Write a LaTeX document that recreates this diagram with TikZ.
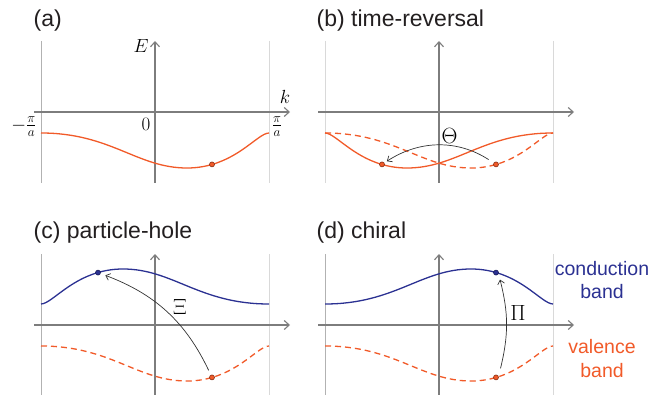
\RequirePackage{fix-cm}
\documentclass[tikz,border=0pt]{standalone}
\usepackage{fontspec}
\newfontfamily\sansf{Liberation Sans}
\usetikzlibrary{arrows.meta}
\definecolor{borange}{RGB}{241,90,41}
\definecolor{bblue}{RGB}{43,49,146}
\definecolor{axgray}{RGB}{125,125,125}
\definecolor{txtgray}{RGB}{35,31,32}
\begin{document}
\begin{tikzpicture}[x=1pt,y=-1pt,
  axis/.style={draw=axgray,line width=1.1pt,-{Straight Barb[length=5pt,width=9pt]}},
  bndl/.style={draw=gray!60,line width=0.9pt},
  bndr/.style={draw=gray!30,line width=1pt},
  vband/.style={color=borange,line width=1.3pt},
  vdash/.style={vband,dash pattern=on 6pt off 4pt},
  cband/.style={color=bblue,line width=1.3pt},
  dotc/.style={circle,inner sep=0pt,minimum size=5pt,line width=0.6pt},
  odot/.style={dotc,fill=borange,draw=borange!55!black},
  bdot/.style={dotc,fill=bblue,draw=bblue!60!black},
  symarrow/.style={draw=black!80,line width=0.7pt,-{Straight Barb[length=4pt,width=7pt]}},
  title/.style={font=\sansf\fontsize{23}{27}\selectfont,text=txtgray,inner sep=0pt,anchor=base west},
  bandlabel/.style={font=\sansf\fontsize{19.5}{23}\selectfont,inner sep=0pt,anchor=base},
  mlab/.style={font=\fontsize{19}{23}\selectfont,inner sep=0pt},
  glab/.style={font=\fontsize{22}{26}\selectfont,inner sep=0pt},
  bandline/.pic={\draw (-114,21) .. controls (-44,21) and (-18,56) .. (32,56) .. controls (79,56) and (102,21) .. (114,21);}
]
\useasboundingbox (0,0) rectangle (663,395);

% ---------- (a)
\node[title] (ta) at (33.5,27) {(a)};
\coordinate (aL1) at (41,41);  \coordinate (aL2) at (41,183);
\coordinate (aR1) at (269,41); \coordinate (aR2) at (269,183);
\coordinate (aX1) at (34,112); \coordinate (aX2) at (290,112);
\coordinate (aY1) at (155,183); \coordinate (aY2) at (155,41);
\draw[bndl] (aL1) -- (aL2);
\draw[bndr] (aR1) -- (aR2);
\draw[axis] (aX1) -- (aX2);
\draw[axis] (aY1) -- (aY2);
\pic[vband] at (155,112) {bandline};
\node[odot] (da) at (212,164.4) {};
\node[mlab] (lE) at (141,46) {$E$};
\node[mlab] (lk) at (285,97) {$k$};
\node[mlab] (l0) at (146,124.5) {$0$};
\node[mlab] (lmpi) at (24,127) {$-\frac{\pi}{a}$};
\node[mlab] (lpi) at (277,127) {$\frac{\pi}{a}$};

% ---------- (b)
\node[title] (tb) at (316.5,27) {(b) time-reversal};
\coordinate (bL1) at (325,41);  \coordinate (bL2) at (325,183);
\coordinate (bR1) at (553,41); \coordinate (bR2) at (553,183);
\coordinate (bX1) at (318,112); \coordinate (bX2) at (574,112);
\coordinate (bY1) at (439,183); \coordinate (bY2) at (439,41);
\draw[bndr] (bL1) -- (bL2);
\draw[bndr] (bR1) -- (bR2);
\draw[axis] (bX1) -- (bX2);
\draw[axis] (bY1) -- (bY2);
\pic[vdash] at (439,112) {bandline};
\pic[vband,xscale=-1] at (439,112) {bandline};
\node[odot] (db1) at (382,164.4) {};
\node[odot] (db2) at (496,164.4) {};
\draw[symarrow,shorten <=6pt,shorten >=3pt] (db2) to[bend right=33] (db1);
\node[glab] (lTheta) at (449.5,136) {$\Theta$};

% ---------- (c)
\node[title] (tc) at (33.5,238) {(c) particle-hole};
\coordinate (cL1) at (41,254);  \coordinate (cL2) at (41,396);
\coordinate (cR1) at (269,254); \coordinate (cR2) at (269,396);
\coordinate (cX1) at (34,325); \coordinate (cX2) at (290,325);
\coordinate (cY1) at (155,396); \coordinate (cY2) at (155,254);
\draw[bndl] (cL1) -- (cL2);
\draw[bndr] (cR1) -- (cR2);
\draw[axis] (cX1) -- (cX2);
\draw[axis] (cY1) -- (cY2);
\pic[cband,xscale=-1,yscale=-1] at (155,325) {bandline};
\pic[vdash] at (155,325) {bandline};
\node[bdot] (dc1) at (98,272.6) {};
\node[odot] (dc2) at (212,377.4) {};
\draw[symarrow,shorten <=5pt,shorten >=5pt] (dc2) to[bend right=22] (dc1);
\node[glab] (lXi) at (180,307) {$\Xi$};

% ---------- (d)
\node[title] (td) at (316.5,238) {(d) chiral};
\coordinate (dL1) at (325,254);  \coordinate (dL2) at (325,396);
\coordinate (dR1) at (553,254); \coordinate (dR2) at (553,396);
\coordinate (dX1) at (318,325); \coordinate (dX2) at (574,325);
\coordinate (dY1) at (439,396); \coordinate (dY2) at (439,254);
\draw[bndl] (dL1) -- (dL2);
\draw[bndr] (dR1) -- (dR2);
\draw[axis] (dX1) -- (dX2);
\draw[axis] (dY1) -- (dY2);
\pic[cband,yscale=-1] at (439,325) {bandline};
\pic[vdash] at (439,325) {bandline};
\node[bdot] (dd1) at (496,272.6) {};
\node[odot] (dd2) at (496,377.4) {};
\draw[symarrow] ([xshift=4.5pt,yshift=9pt]dd2.center) to[bend right=14] ([xshift=4pt,yshift=-7pt]dd1.center);
\node[glab] (lPi) at (518,313) {$\Pi$};

% ---------- band labels
\node[bandlabel,text=bblue] (lc1) at (602,275) {conduction};
\node[bandlabel,text=bblue] (lc2) at (602,298) {band};
\node[bandlabel,text=borange] (lv1) at (602,353) {valence};
\node[bandlabel,text=borange] (lv2) at (602,377) {band};
\end{tikzpicture}
\end{document}
